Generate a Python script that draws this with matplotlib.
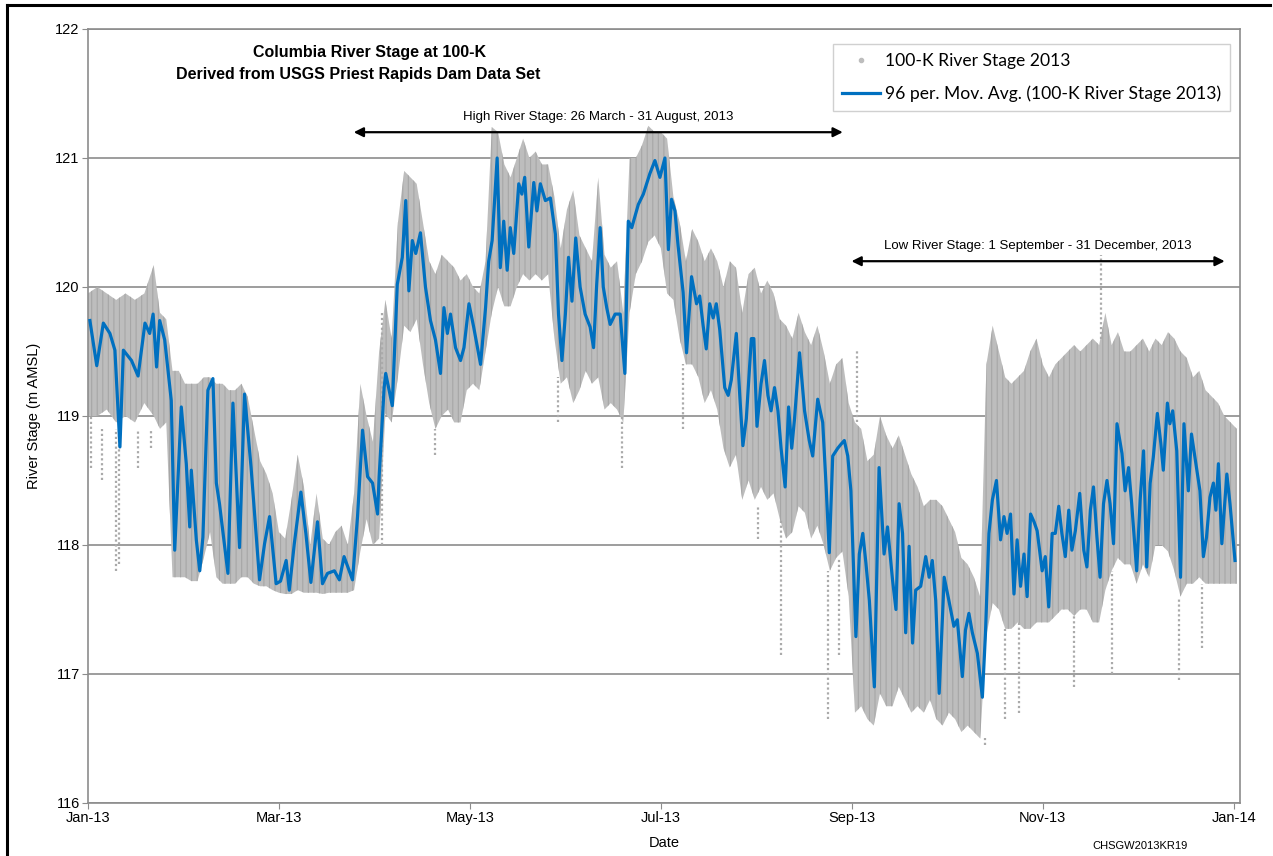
import matplotlib
matplotlib.use("Agg")
import matplotlib.pyplot as plt
from matplotlib.lines import Line2D

# days since 1 Jan 2013
ma_day = [0.6, 2.8, 4.9, 7, 8.6, 10.2, 11.3, 13.9, 16, 18.2, 19.7, 20.8, 21.9, 22.9, 24.5, 26.6,
          27.7, 29.8, 31.4, 32.5, 33, 34.6, 35.7, 36.7, 38.3, 39.9, 41, 42, 44.7, 46.3, 48.4, 50,
          52.1, 54.8, 56.4, 58, 60.1, 61.5, 63.3, 64.3, 65.9, 68, 69.6, 71.2, 73.3, 74.9, 76.5,
          78.7, 80.3, 81.8, 84.5, 86.1, 87.7, 89.3, 90.9, 92.5, 93, 94.6, 95.1, 97.2, 98.8, 100.4,
          101.5, 102.5, 103.6, 104.7, 106.2, 107.8, 109.4, 111, 112.6, 113.7, 114.8, 115.8, 117.4,
          119, 120.1, 121.7, 123.2, 125.4, 127, 128, 129.1, 130.7, 131.7, 132.8, 133.9, 134.9,
          136, 137.6, 138.6, 139.5, 140.8, 142.4, 143.4, 144.5, 146.1, 147.7, 149.3, 150.3, 151.4,
          152.5, 153.5, 154.6, 155.8, 157.2, 158.8, 160.4, 161.5, 162.5, 163.6, 164.6, 165.7,
          166.8, 168.4, 170, 171.5, 172.6, 173.7, 175.8, 177.4, 179.5, 181.1, 182.7, 184.3,
          185.4, 186.4, 187.5, 188.5, 190.1, 191.2, 192.8, 194.4, 195.4, 196.5, 197.5, 198.6,
          199.7, 200.7, 201.8, 203.4, 204.5, 205.5, 207.1, 208.2, 209.2, 210.3, 211.9, 212.7,
          213.7, 215, 216.1, 217.2, 218.2, 219.3, 220.4, 221.4, 222.7, 223.8, 224.8, 225.7,
          227.3, 228.9, 230.4, 231.5, 233.1, 234.7, 235.8, 236.8, 237.9, 239.5, 240.5, 241.6,
          242.7, 243.7, 245.3, 246.4, 247.5, 248.5, 249.6, 251.2, 252.7, 254.3, 255.4, 257,
          258.1, 259.1, 260.2, 261.2, 262.3, 263.4, 264.4, 266, 267.6, 268.7, 269.7, 270.8,
          271.9, 273.5, 275, 276.6, 277.7, 279.3, 280.3, 281.4, 282.5, 284.1, 285.7, 286.7,
          287.8, 288.9, 290.2, 291.5, 292.6, 293.6, 294.7, 295.8, 296.8, 297.9, 299, 300,
          301.1, 302.2, 303.2, 304.8, 305.8, 306.9, 308, 309, 310.1, 311.1, 312.2, 313.3, 314.3,
          315.4, 316.8, 318.1, 319.1, 320.2, 321.2, 322.3, 323.3, 324.4, 325.5, 326.5, 327.6,
          328.7, 330.3, 331.3, 332.4, 333.4, 335, 336.1, 337.2, 338.2, 339.3, 340.3, 341.6,
          342.7, 343.5, 344.8, 345.6, 346.5, 347.8, 349, 350.1, 351.5, 352.5, 354.1, 355.2,
          356.3, 357.3, 358.4, 359.5, 360.3, 361.1, 362.2, 363.8, 364.8, 366.4]
ma_stage = [119.74, 119.39, 119.72, 119.64, 119.51, 118.76, 119.51, 119.43, 119.31, 119.72, 119.64,
            119.79, 119.38, 119.74, 119.59, 119.12, 117.96, 119.07, 118.63, 118.14, 118.58,
            118.04, 117.80, 118.06, 119.20, 119.29, 118.48, 118.32, 117.78, 119.10, 117.98,
            119.17, 118.60, 117.73, 118.01, 118.22, 117.70, 117.72, 117.88, 117.65, 118.01,
            118.41, 118.09, 117.71, 118.18, 117.70, 117.78, 117.80, 117.73, 117.91, 117.73,
            118.22, 118.89, 118.53, 118.48, 118.24, 118.53, 119.22, 119.33, 119.08, 120.02,
            120.23, 120.67, 119.97, 120.36, 120.26, 120.42, 120.0, 119.74, 119.59, 119.33,
            119.84, 119.64, 119.79, 119.53, 119.43, 119.53, 119.87, 119.69, 119.40, 119.84,
            120.20, 120.36, 121.0, 120.15, 120.51, 120.13, 120.46, 120.26, 120.80, 120.72,
            120.85, 120.31, 120.81, 120.59, 120.80, 120.67, 120.69, 120.41, 119.79, 119.43,
            119.79, 120.23, 119.89, 120.38, 120.0, 119.79, 119.69, 119.53, 120.02, 120.46,
            120.0, 119.84, 119.71, 119.79, 119.79, 119.33, 120.51, 120.46, 120.64, 120.72,
            120.88, 120.98, 120.85, 121.0, 120.29, 120.68, 120.59, 120.32, 119.96, 119.49,
            120.08, 119.87, 119.93, 119.70, 119.52, 119.87, 119.76, 119.87, 119.67, 119.22,
            119.16, 119.28, 119.64, 119.16, 118.77, 118.98, 119.60, 119.60, 118.92, 119.25,
            119.43, 119.16, 119.04, 119.22, 119.04, 118.75, 118.45, 119.07, 118.75, 118.98,
            119.49, 119.04, 118.81, 118.69, 119.13, 118.95, 118.45, 117.94, 118.69, 118.75,
            118.78, 118.81, 118.69, 118.42, 117.29, 117.93, 118.09, 117.86, 117.57, 116.90,
            118.60, 117.93, 118.14, 117.73, 117.50, 118.32, 118.09, 117.32, 117.99, 117.24,
            117.65, 117.68, 117.91, 117.75, 117.88, 117.57, 116.85, 117.75, 117.57, 117.37,
            117.42, 116.98, 117.34, 117.47, 117.32, 117.16, 116.82, 117.32, 118.09, 118.35,
            118.50, 118.04, 118.22, 118.09, 118.24, 117.62, 118.04, 117.68, 117.93, 117.60,
            118.24, 118.18, 118.11, 117.80, 117.91, 117.52, 118.09, 118.09, 118.30, 118.09,
            117.91, 118.27, 117.96, 118.11, 118.40, 117.96, 117.83, 118.27, 118.45, 118.06,
            117.75, 118.32, 118.50, 118.32, 118.01, 118.94, 118.71, 118.42, 118.60, 118.32,
            117.80, 118.35, 118.73, 117.83, 118.48, 118.68, 119.02, 118.79, 118.58, 119.10,
            118.94, 119.04, 118.73, 117.75, 118.94, 118.42, 118.86, 118.60, 118.42, 117.91,
            118.06, 118.37, 118.48, 118.27, 118.63, 118.01, 118.55, 118.32, 117.88]

# spread of the 15-minute readings
env_day = [0, 3, 6, 9, 12, 15, 18, 21, 23, 25, 27, 29, 31, 33, 35, 37, 39, 41, 43, 45, 47, 49,
           51, 53, 55, 57, 59, 61, 63, 65, 67, 69, 71, 73, 75, 77, 79, 81, 83, 85, 87, 89, 91,
           93, 95, 97, 99, 101, 103, 105, 107, 109, 111, 113, 115, 117, 119, 121, 123, 125, 127,
           129, 131, 133, 135, 137, 139, 141, 143, 145, 147, 149, 151, 153, 155, 157, 159, 161,
           163, 165, 167, 169, 171, 173, 175, 177, 179, 181, 183, 185, 187, 189, 191, 193, 195,
           197, 199, 201, 203, 205, 207, 209, 211, 213, 215, 217, 219, 221, 223, 225, 227, 229,
           231, 233, 235, 237, 239, 241, 243, 245, 247, 249, 251, 253, 255, 257, 259, 261, 263,
           265, 267, 269, 271, 273, 275, 277, 279, 281, 283, 285, 287, 289, 291, 293, 295, 297,
           299, 301, 303, 305, 307, 309, 311, 313, 315, 317, 319, 321, 323, 325, 327, 329, 331,
           333, 335, 337, 339, 341, 343, 345, 347, 349, 351, 353, 355, 357, 359, 361, 363, 365,
           367]
env_high = [119.95, 120.0, 119.95, 119.9, 119.95, 119.9, 119.95, 120.17, 119.8, 119.75, 119.35,
            119.35, 119.25, 119.25, 119.25, 119.3, 119.3, 119.25, 119.25, 119.2, 119.2, 119.25,
            119.15, 118.9, 118.65, 118.55, 118.4, 118.1, 118.05, 118.35, 118.7, 118.45, 118.0,
            118.4, 118.05, 118.0, 118.1, 118.15, 118.0, 118.4, 119.25, 119.0, 118.8, 119.5,
            119.9, 119.6, 120.5, 120.9, 120.85, 120.8, 120.5, 120.2, 120.1, 120.25, 120.2,
            120.15, 120.05, 120.1, 120.0, 119.95, 120.2, 121.24, 121.2, 120.95, 120.85, 121.0,
            121.15, 121.0, 121.05, 120.95, 120.95, 120.7, 120.3, 120.6, 120.75, 120.4, 120.3,
            120.2, 120.85, 120.25, 120.15, 120.2, 119.8, 121.0, 121.0, 121.1, 121.25, 121.2,
            121.2, 121.15, 120.7, 120.5, 120.2, 120.45, 120.35, 120.2, 120.3, 120.2, 120.0,
            120.2, 120.15, 119.8, 120.1, 120.15, 119.95, 120.05, 119.95, 119.75, 119.7, 119.6,
            119.8, 119.65, 119.55, 119.7, 119.5, 119.25, 119.4, 119.45, 119.1, 118.95, 118.9,
            118.65, 118.7, 119.0, 118.85, 118.75, 118.85, 118.7, 118.55, 118.45, 118.3, 118.35,
            118.35, 118.3, 118.2, 118.1, 117.9, 117.85, 117.75, 117.6, 119.4, 119.7, 119.5,
            119.3, 119.25, 119.3, 119.35, 119.5, 119.6, 119.4, 119.3, 119.4, 119.45, 119.5,
            119.55, 119.5, 119.55, 119.6, 119.55, 119.8, 119.55, 119.65, 119.5, 119.5, 119.55,
            119.6, 119.5, 119.6, 119.55, 119.65, 119.6, 119.5, 119.45, 119.3, 119.35, 119.2,
            119.15, 119.1, 119.0, 118.95, 118.9]
env_low = [119.0, 119.0, 119.05, 118.95, 119.0, 118.95, 119.1, 119.0, 118.9, 118.95, 117.75,
           117.75, 117.75, 117.72, 117.72, 117.9, 118.1, 117.75, 117.7, 117.7, 117.7, 117.75,
           117.75, 117.7, 117.68, 117.68, 117.65, 117.63, 117.62, 117.62, 117.65, 117.63,
           117.63, 117.63, 117.62, 117.63, 117.63, 117.63, 117.63, 117.65, 117.95, 118.2,
           118.0, 118.05, 119.02, 118.95, 119.3, 119.7, 119.65, 119.75, 119.4, 119.1, 118.9,
           119.0, 119.05, 118.95, 118.95, 119.2, 119.25, 119.2, 119.5, 119.8, 120.0, 119.85,
           119.85, 120.0, 120.1, 120.05, 120.1, 120.05, 120.1, 119.6, 119.25, 119.3, 119.1,
           119.2, 119.35, 119.25, 119.3, 119.05, 119.1, 119.05, 118.95, 119.8, 120.1, 120.2,
           120.35, 120.4, 120.3, 119.95, 119.9, 119.6, 119.4, 119.4, 119.3, 119.1, 119.2,
           119.05, 118.75, 118.6, 118.7, 118.35, 118.5, 118.35, 118.45, 118.35, 118.4, 118.2,
           118.05, 118.1, 118.3, 118.25, 118.05, 118.15, 118.0, 117.8, 117.9, 117.95, 117.6,
           116.7, 116.75, 116.65, 116.6, 116.85, 116.75, 116.75, 116.9, 116.8, 116.7, 116.75,
           116.7, 116.8, 116.65, 116.6, 116.7, 116.65, 116.55, 116.6, 116.55, 116.5, 117.3,
           117.55, 117.5, 117.35, 117.35, 117.4, 117.35, 117.35, 117.4, 117.4, 117.4, 117.45,
           117.5, 117.5, 117.45, 117.5, 117.5, 117.4, 117.4, 117.65, 117.8, 117.9, 117.85,
           117.85, 117.7, 117.85, 117.75, 118.0, 118.0, 117.95, 117.8, 117.6, 117.7, 117.7,
           117.75, 117.7, 117.7, 117.7, 117.7, 117.7, 117.7]

# isolated readings outside the main band
spike_day = [1, 4.5, 9, 10, 16, 20, 94, 111, 150, 170.5, 190, 214, 221.5, 236.5, 240, 245.5,
             286.5, 293, 297.5, 315, 323.5, 327, 348.5, 356]
spike_top = [119.0, 118.9, 118.9, 118.9, 118.9, 118.9, 119.8, 118.9, 119.3, 119.0, 119.4, 118.3,
             118.2, 117.8, 117.9, 119.5, 116.5, 117.35, 117.4, 117.45, 120.25, 117.8, 117.6, 117.7]
spike_bottom = [118.6, 118.5, 117.8, 117.85, 118.6, 118.75, 118.0, 118.7, 118.95, 118.6, 118.9,
                118.05, 117.15, 116.65, 117.15, 118.95, 116.45, 116.65, 116.7, 116.9, 119.6,
                117.0, 116.95, 117.2]

tick_days = [0, 61, 122, 183, 244, 305, 366]
tick_labels = ["Jan-13", "Mar-13", "May-13", "Jul-13", "Sep-13", "Nov-13", "Jan-14"]

GREY = "#bdbdbd"
BLUE = "#0070c0"
LINE = "#8c8c8c"
plt.rcParams["font.family"] = ["Liberation Sans", "DejaVu Sans"]
plt.rcParams["hatch.linewidth"] = 0.8
plt.rcParams["hatch.color"] = "#a6a6a6"

W, H = 1273, 856
fig = plt.figure(figsize=(W / 100, H / 100), dpi=100)
ax = fig.add_axes([88 / W, 1 - 803 / H, (1240 - 88) / W, (803 - 29) / H])

ax.fill_between(env_day, env_low, env_high, facecolor=GREY, edgecolor="#a6a6a6",
                hatch="|||", lw=0, zorder=2)
ax.vlines(spike_day, spike_bottom, spike_top, color="#aaaaaa", lw=1.6,
          linestyles=(0, (1, 1.2)), zorder=2)
ax.plot(ma_day, ma_stage, color=BLUE, lw=2.3, zorder=3)

ax.set_xlim(0, 368)
ax.set_ylim(116, 122)
ax.set_xticks(tick_days)
ax.set_xticklabels(tick_labels)
ax.set_yticks(range(116, 123))
ax.tick_params(axis="both", direction="out", length=4, color=LINE, labelsize=10.5, pad=2)
ax.yaxis.grid(True, color=LINE, lw=1.2)
ax.set_axisbelow(True)
for sp in ax.spines.values():
    sp.set_color(LINE)
    sp.set_linewidth(1.2)
ax.set_ylabel("River Stage (m AMSL)", fontsize=10.5, labelpad=10)
ax.set_xlabel("Date", fontsize=10.5, labelpad=8)

# title box
fig.text(370 / W, 1 - 52 / H, "Columbia River Stage at 100-K", ha="center", va="center",
         fontsize=11.5, fontweight="bold")
fig.text(358 / W, 1 - 75 / H, "Derived from USGS Priest Rapids Dam Data Set", ha="center",
         va="center", fontsize=11.5, fontweight="bold")

# stage period annotations
ax.annotate("", xy=(84, 121.2), xytext=(242, 121.2),
            arrowprops=dict(arrowstyle="<|-|>", color="black", lw=1.6, mutation_scale=14))
ax.text(163, 121.27, "High River Stage: 26 March - 31 August, 2013", ha="center", va="bottom",
        fontsize=9.5)
ax.annotate("", xy=(243, 120.2), xytext=(364, 120.2),
            arrowprops=dict(arrowstyle="<|-|>", color="black", lw=1.6, mutation_scale=14))
ax.text(303.5, 120.27, "Low River Stage: 1 September - 31 December, 2013", ha="center",
        va="bottom", fontsize=9.5)

handles = [Line2D([], [], ls="none", marker="o", ms=3, color=GREY, mec=GREY),
           Line2D([], [], color=BLUE, lw=2.3)]
leg = ax.legend(handles, ["100-K River Stage 2013", "96 per. Mov. Avg. (100-K River Stage 2013)"],
                loc="upper right", bbox_to_anchor=(1230 / W, 1 - 44 / H),
                bbox_transform=fig.transFigure, borderaxespad=0, fancybox=False,
                framealpha=1, edgecolor="#d0d0d0", prop={"family": "Lato", "size": 12.6},
                handlelength=2.2, handletextpad=0.28, labelspacing=0.95, borderpad=0.5)
leg.get_frame().set_linewidth(1.0)

fig.text(1140 / W, 1 - 846 / H, "CHSGW2013KR19", ha="center", va="center", fontsize=8)

# outer frame of the figure
fig.add_artist(Line2D([7 / W, 7 / W], [0, 1 - 5 / H], color="black", lw=2.2))
fig.add_artist(Line2D([7 / W, 1270 / W], [1 - 5 / H, 1 - 5 / H], color="black", lw=2.2))

fig.savefig("out.png", dpi=100)
